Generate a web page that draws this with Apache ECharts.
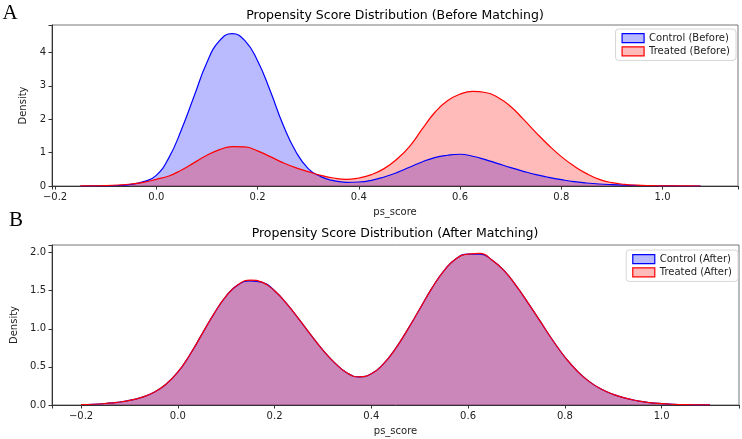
<!DOCTYPE html>
<html>
<head>
<meta charset="utf-8">
<script src="https://cdn.jsdelivr.net/npm/echarts@6/dist/echarts.min.js"></script>
<style>
html, body { margin: 0; padding: 0; background: #fff; }
#main { width: 742px; height: 439px; }
</style>
</head>
<body>
<div id="main"></div>
<script>
// sample points of the density curves
const xBefore = [-0.15, -0.125, -0.1, -0.075, -0.05, -0.025, 0, 0.025, 0.05, 0.075,
  0.1, 0.125, 0.15, 0.175, 0.2, 0.225, 0.25, 0.275, 0.3, 0.325,
  0.35, 0.375, 0.4, 0.425, 0.45, 0.475, 0.5, 0.525, 0.55, 0.575,
  0.6, 0.625, 0.65, 0.675, 0.7, 0.725, 0.75, 0.775, 0.8, 0.825,
  0.85, 0.875, 0.9, 0.925, 0.95, 0.975, 1.0, 1.025, 1.05, 1.075]
const controlBefore = [0, 0.002, 0.005, 0.015, 0.05, 0.13, 0.32, 0.85, 1.7, 2.7,
  3.7, 4.35, 4.56, 4.35, 3.75, 2.85, 1.85, 1.05, 0.52, 0.28,
  0.16, 0.11, 0.12, 0.17, 0.27, 0.4, 0.56, 0.72, 0.85, 0.92,
  0.95, 0.89, 0.79, 0.67, 0.55, 0.44, 0.34, 0.26, 0.19, 0.13,
  0.09, 0.06, 0.04, 0.025, 0.015, 0.008, 0.004, 0.001, 0, 0]
const treatedBefore = [0.002, 0.005, 0.012, 0.03, 0.06, 0.11, 0.2, 0.3, 0.48, 0.7,
  0.92, 1.09, 1.18, 1.17, 1.05, 0.88, 0.7, 0.55, 0.43, 0.32,
  0.24, 0.2, 0.24, 0.34, 0.52, 0.8, 1.18, 1.7, 2.2, 2.55,
  2.75, 2.83, 2.8, 2.65, 2.38, 2.0, 1.6, 1.22, 0.88, 0.6,
  0.37, 0.2, 0.1, 0.05, 0.025, 0.012, 0.005, 0.002, 0.001, 0]

const xAfter = [-0.2, -0.175, -0.15, -0.125, -0.1, -0.075, -0.05, -0.025, 0, 0.025,
  0.05, 0.075, 0.1, 0.125, 0.15, 0.175, 0.2, 0.225, 0.25, 0.275,
  0.3, 0.325, 0.35, 0.375, 0.4, 0.425, 0.45, 0.475, 0.5, 0.525,
  0.55, 0.575, 0.6, 0.625, 0.65, 0.675, 0.7, 0.725, 0.75, 0.775,
  0.8, 0.825, 0.85, 0.875, 0.9, 0.925, 0.95, 0.975, 1.0, 1.025,
  1.05, 1.075, 1.1]
const controlAfter = [0.005, 0.01, 0.02, 0.035, 0.06, 0.1, 0.165, 0.27, 0.43, 0.66,
  0.93, 1.2, 1.43, 1.58, 1.63, 1.61, 1.5, 1.33, 1.13, 0.92,
  0.72, 0.55, 0.42, 0.37, 0.41, 0.54, 0.74, 0.99, 1.26, 1.53,
  1.76, 1.92, 1.98, 1.98, 1.9, 1.76, 1.56, 1.33, 1.09, 0.85,
  0.63, 0.45, 0.31, 0.21, 0.14, 0.09, 0.055, 0.032, 0.018, 0.009,
  0.004, 0.002, 0.001]
const treatedAfter = [0.005, 0.01, 0.02, 0.035, 0.06, 0.1, 0.165, 0.27, 0.43, 0.66,
  0.93, 1.2, 1.43, 1.58, 1.64, 1.61, 1.5, 1.33, 1.13, 0.92,
  0.72, 0.55, 0.42, 0.37, 0.41, 0.54, 0.74, 0.99, 1.26, 1.53,
  1.76, 1.92, 1.98, 1.99, 1.9, 1.76, 1.56, 1.33, 1.09, 0.85,
  0.63, 0.45, 0.31, 0.21, 0.14, 0.09, 0.055, 0.032, 0.018, 0.009,
  0.004, 0.002, 0.001]

const font = 'DejaVu Sans'
const blue = '#0000ff'
const red = '#ff0000'
const blueFill = 'rgba(0,0,255,0.27)'
const redFill = 'rgba(255,0,0,0.27)'

function pairs(xs, ys) {
  return xs.map((x, i) => [x, ys[i]])
}

function xLabel(v) {
  if (Math.abs(v * 5 - Math.round(v * 5)) > 1e-6) return ''
  return (Math.round(v * 5) / 5).toFixed(1).replace('-', '\u2212')
}

function xAxisCfg(gridIndex, min, max) {
  return {
    type: 'value', gridIndex: gridIndex, min: min, max: max,
    minInterval: 0.2, maxInterval: 0.2,
    name: 'ps_score', nameLocation: 'middle', nameGap: 21,
    nameTextStyle: { fontFamily: font, fontSize: 10, color: '#222' },
    axisLine: { show: true, onZero: false, lineStyle: { color: '#333', width: 1 } },
    axisTick: { show: true, length: 3.5, lineStyle: { color: '#333' } },
    axisLabel: { fontFamily: font, fontSize: 10, color: '#222', margin: 6, formatter: xLabel },
    splitLine: { show: false }
  }
}

function yAxisCfg(gridIndex, max, interval, fmt, gap) {
  return {
    type: 'value', gridIndex: gridIndex, min: 0, max: max, interval: interval,
    name: 'Density', nameLocation: 'middle', nameGap: gap,
    nameTextStyle: { fontFamily: font, fontSize: 10, color: '#222' },
    axisLine: { show: true, onZero: false, lineStyle: { color: '#333', width: 1 } },
    axisTick: { show: true, length: 3.5, lineStyle: { color: '#333' } },
    axisLabel: { fontFamily: font, fontSize: 10, color: '#222', margin: 6, formatter: fmt },
    splitLine: { show: false }
  }
}

function curve(name, idx, data, color, fill) {
  return {
    name: name, type: 'line', xAxisIndex: idx, yAxisIndex: idx,
    data: data, smooth: true,
    showSymbol: false, symbol: 'none', silent: true,
    lineStyle: { color: color, width: 1.2 },
    itemStyle: { color: color },
    areaStyle: { color: fill, opacity: 1 }
  }
}

function legendCfg(top, right, items) {
  return {
    top: top, right: right, orient: 'vertical', icon: 'rect',
    itemWidth: 22, itemHeight: 9, itemGap: 3,
    padding: [4, 6, 4, 6],
    borderColor: '#d6d6d6', borderWidth: 1, borderRadius: 3,
    backgroundColor: 'rgba(255,255,255,0.85)',
    textStyle: { fontFamily: font, fontSize: 10, color: '#222' },
    data: items
  }
}

const chart = echarts.init(document.getElementById('main'))

const option = {
  animation: false,
  backgroundColor: '#fff',
  grid: [
    { left: 52, top: 25, width: 686, height: 161, show: true, borderColor: '#777', borderWidth: 1 },
    { left: 52, top: 245, width: 687, height: 160, show: true, borderColor: '#777', borderWidth: 1 }
  ],
  xAxis: [xAxisCfg(0, -0.206, 1.149), xAxisCfg(1, -0.26, 1.16)],
  yAxis: [
    yAxisCfg(0, 4.82, 1, function (v) {
      return Math.abs(v - Math.round(v)) < 1e-6 ? String(Math.round(v)) : ''
    }, 19),
    yAxisCfg(1, 2.1, 0.5, function (v) {
      return Math.abs(v * 2 - Math.round(v * 2)) < 1e-6 ? v.toFixed(1) : ''
    }, 29)
  ],
  legend: [
    legendCfg(29, 6, [
      { name: 'Control (Before)', itemStyle: { color: blueFill, borderColor: blue, borderWidth: 1.2 } },
      { name: 'Treated (Before)', itemStyle: { color: redFill, borderColor: red, borderWidth: 1.2 } }
    ]),
    legendCfg(250, 4, [
      { name: 'Control (After)', itemStyle: { color: blueFill, borderColor: blue, borderWidth: 1.2 } },
      { name: 'Treated (After)', itemStyle: { color: redFill, borderColor: red, borderWidth: 1.2 } }
    ])
  ],
  graphic: [
    { type: 'text', x: 395, y: 16, style: { text: 'Propensity Score Distribution (Before Matching)', font: '12.5px "DejaVu Sans"', fill: '#000', align: 'center', verticalAlign: 'middle' } },
    { type: 'text', x: 395, y: 234, style: { text: 'Propensity Score Distribution (After Matching)', font: '12.5px "DejaVu Sans"', fill: '#000', align: 'center', verticalAlign: 'middle' } },
    { type: 'text', x: 10, y: 13, style: { text: 'A', font: '21px "Liberation Serif"', fill: '#000', align: 'center', verticalAlign: 'middle' } },
    { type: 'text', x: 16, y: 220, style: { text: 'B', font: '21px "Liberation Serif"', fill: '#000', align: 'center', verticalAlign: 'middle' } }
  ],
  series: [
    curve('Control (Before)', 0, pairs(xBefore, controlBefore), blue, blueFill),
    curve('Treated (Before)', 0, pairs(xBefore, treatedBefore), red, redFill),
    curve('Control (After)', 1, pairs(xAfter, controlAfter), blue, blueFill),
    curve('Treated (After)', 1, pairs(xAfter, treatedAfter), red, redFill)
  ]
}

option && chart.setOption(option)
</script>
</body>
</html>
